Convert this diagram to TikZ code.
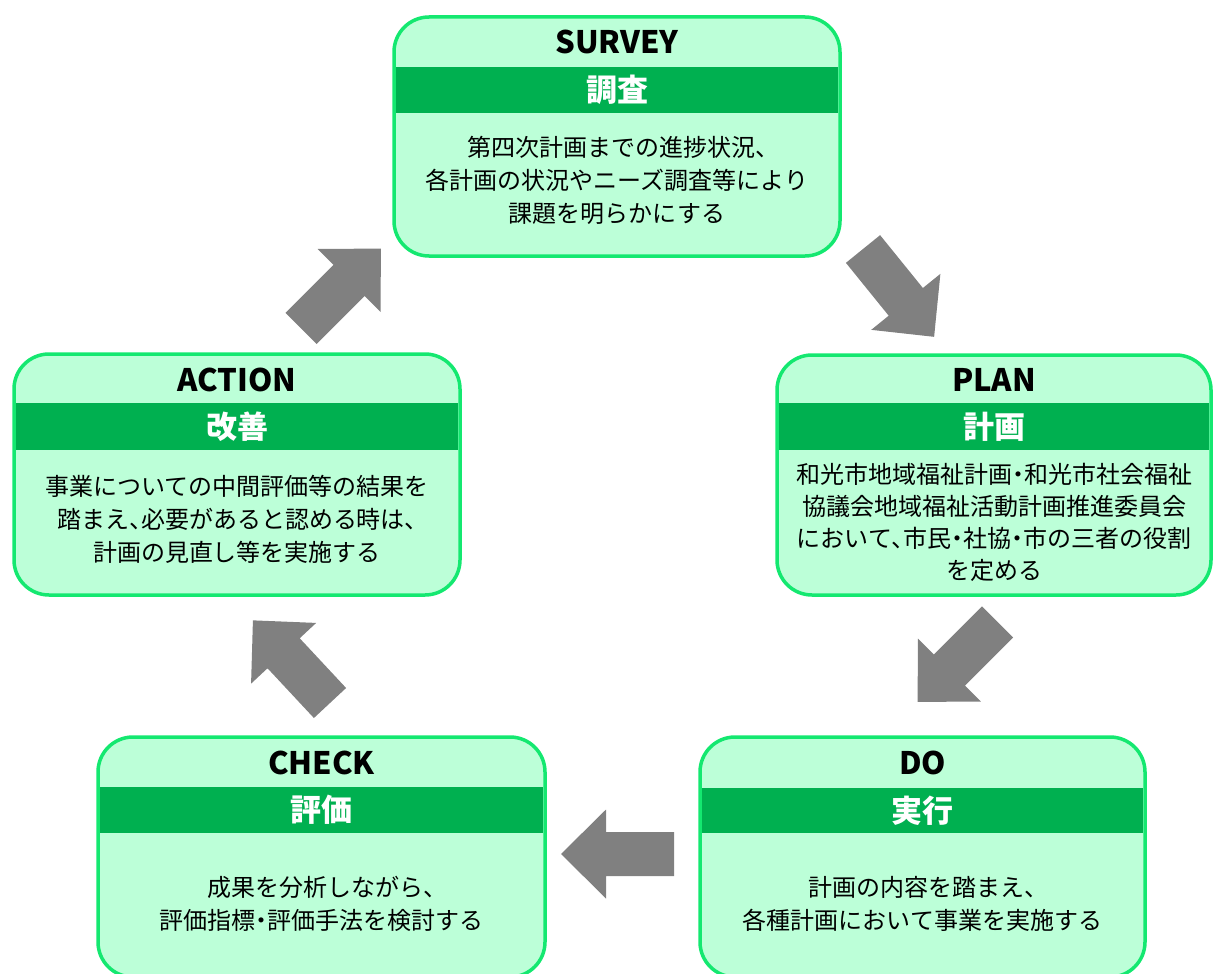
\documentclass[tikz,border=0pt]{standalone}
\usepackage{fontspec}
\setmainfont{Noto Sans CJK JP}
\newfontfamily\bodyfont{Noto Sans CJK JP}[RawFeature=+halt]
\definecolor{boxfill}{RGB}{188,255,216}
\definecolor{boxline}{RGB}{20,232,112}
\definecolor{bandgreen}{RGB}{0,176,80}
\definecolor{arrowgray}{RGB}{128,128,128}
\begin{document}
\begin{tikzpicture}[x=1pt,y=-1pt,
  box/.style={draw=boxline, line width=3.5pt, fill=boxfill, rounded corners=35pt,
    inner sep=0pt, outer sep=0pt, anchor=north west},
  band/.style={fill=bandgreen, inner sep=0pt, outer sep=0pt, text=white,
    font=\bfseries\fontsize{31pt}{31pt}\selectfont},
  ttl/.style={inner sep=0pt, text=black, font=\bfseries\fontsize{31pt}{31pt}\selectfont},
  body/.style={inner sep=0pt, align=center, text=black,
    font=\bodyfont\fontsize{24pt}{33pt}\selectfont},
  blockarrow/.style={fill=arrowgray}
]
\useasboundingbox (0,0) rectangle (1213,974);
\clip (0,0) rectangle (1213,974);

% ---------- SURVEY ----------
\node[box, minimum width=446, minimum height=239] (survey) at (394,17) {};
\node[band, minimum width=442, minimum height=46] (surveyband) at (617,90) {調査};
\node[ttl] (surveytitle) at (617,42) {SURVEY};
\node[body] (surveybody) at (617,180) {第四次計画までの進捗状況、\\各計画の状況やニーズ調査等により\\課題を明らかにする};

% ---------- PLAN ----------
\node[box, minimum width=434, minimum height=240] (plan) at (777,355) {};
\node[band, minimum width=430, minimum height=47] (planband) at (994,426.5) {計画};
\node[ttl] (plantitle) at (994,380) {PLAN};
\node[body, font=\bodyfont\fontsize{24pt}{32pt}\selectfont] (planbody) at (994,522) {和光市地域福祉計画・和光市社会福祉\\協議会地域福祉活動計画推進委員会\\において、市民・社協・市の三者の役割\\を定める};

% ---------- DO ----------
\node[box, minimum width=445, minimum height=240] (do) at (700,737) {};
\node[band, minimum width=441, minimum height=45] (doband) at (922.5,810.5) {実行};
\node[ttl] (dotitle) at (922.5,763) {DO};
\node[body] (dobody) at (922.5,904) {計画の内容を踏まえ、\\各種計画において事業を実施する};

% ---------- CHECK ----------
\node[box, minimum width=447, minimum height=240] (check) at (98,737) {};
\node[band, minimum width=443, minimum height=46] (checkband) at (321.5,810) {評価};
\node[ttl] (checktitle) at (321.5,763) {CHECK};
\node[body] (checkbody) at (321.5,904) {成果を分析しながら、\\評価指標・評価手法を検討する};

% ---------- ACTION ----------
\node[box, minimum width=446, minimum height=241] (action) at (14,354) {};
\node[band, minimum width=442, minimum height=47] (actionband) at (237,426.5) {改善};
\node[ttl] (actiontitle) at (237,380) {ACTION};
\node[body] (actionbody) at (237,519.5) {事業についての中間評価等の結果を\\踏まえ、必要があると認める時は、\\計画の見直し等を実施する};

% ---------- arrows ----------
\coordinate (a1) at (863,249);
\coordinate (a2) at (997.5,622);
\coordinate (a3) at (674,854);
\coordinate (a4) at (330,703);
\coordinate (a5) at (301,328.5);
\foreach \c/\ang in {a1/-51, a2/-135, a3/180, a4/133, a5/45}{
  \fill[blockarrow, shift={(\c)}, rotate=\ang]
    (0,22) -- (68,22) -- (68,44.5) -- (113,0) -- (68,-44.5) -- (68,-22) -- (0,-22) -- cycle;
}
\end{tikzpicture}
\end{document}
